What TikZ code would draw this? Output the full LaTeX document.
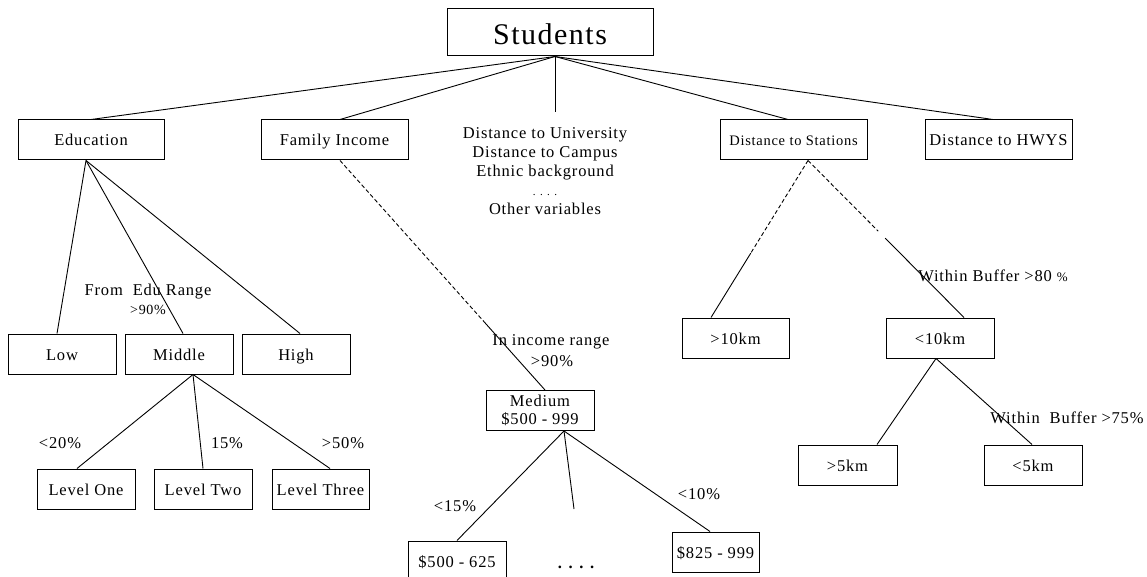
\documentclass[tikz,border=0pt]{standalone}
\usepackage{fontspec}
\setmainfont{Liberation Serif}[LetterSpace=5]
\usetikzlibrary{calc}
\newcommand{\mainsz}{\fontsize{16.5}{19}\selectfont}
\newcommand{\smallsz}{\fontsize{14.5}{17}\selectfont}
\begin{document}
\begin{tikzpicture}[x=1pt,y=-1pt,
  box/.style={draw, line width=1pt, inner sep=0pt, minimum height=40pt, font=\mainsz, text height=14pt, text depth=2pt},
  lbl/.style={inner sep=0pt, font=\mainsz},
  edge/.style={line width=0.9pt},
  dedge/.style={line width=0.9pt, dash pattern=on 4pt off 2.5pt}]
\clip (0,0) rectangle (1147,577);
\fill[white] (0,0) rectangle (1147,577);
% boxes
\node[box, minimum width=206pt, minimum height=47pt, text height=27pt, text depth=2pt, font=\fontsize{30}{34}\selectfont] (stud) at (550,32.5) {Students};
\node[box, minimum width=146pt] (edu) at (91,140) {Education};
\node[box, minimum width=147pt] (fam) at (334.5,140) {Family Income};
\node[box, minimum width=147pt, font=\smallsz] (stat) at (793.5,140) {Distance to Stations};
\node[box, minimum width=147pt] (hwys) at (998.5,140) {Distance to HWYS};
\node[lbl, align=center, font=\fontsize{16.5}{19}\selectfont] (vars) at (545,171)
  {Distance to University\\Distance to Campus\\Ethnic background\\{\fontsize{11}{19}\selectfont . . . .}\\Other variables};
\coordinate (varstop) at (555,112);
\node[box, minimum width=108pt] (low) at (62,354) {Low};
\node[box, minimum width=108pt] (mid) at (179,354) {Middle};
\node[box, minimum width=108pt] (high) at (296,354) {High};
\node[box, minimum width=98pt] (l1) at (86,489) {Level One};
\node[box, minimum width=98pt] (l2) at (203,489) {Level Two};
\node[box, minimum width=97pt] (l3) at (320.5,489) {Level Three};
\node[box, minimum width=108pt, align=center, text height=, text depth=, font=\fontsize{16.5}{18}\selectfont] (med) at (540,410.5) {Medium\\\$500 - 999};
\node[box, minimum width=98pt] (p1) at (457,561) {\$500 - 625};
\node[box, minimum width=87pt] (p3) at (715.5,552) {\$825 - 999};
\coordinate (midend) at (574,509);
\node[box, minimum width=107pt] (g10) at (735.5,338) {>10km};
\node[box, minimum width=108pt] (l10) at (940,338) {<10km};
\node[box, minimum width=99pt] (g5) at (847.5,465) {>5km};
\node[box, minimum width=98pt] (l5) at (1033,465) {<5km};
% top connectors
\draw[edge] ([xshift=5pt]stud.south) -- (edu.north);
\draw[edge] ([xshift=5pt]stud.south) -- ([xshift=5.5pt]fam.north);
\draw[edge] ([xshift=5pt]stud.south) -- (varstop);
\draw[edge] ([xshift=5pt]stud.south) -- ([xshift=-5.5pt]stat.north);
\draw[edge] ([xshift=5pt]stud.south) -- ([xshift=-5.5pt]hwys.north);
% education
\draw[edge] ([xshift=-5pt]edu.south) -- ([xshift=-5pt]low.north);
\draw[edge] ([xshift=-5pt]edu.south) -- ([xshift=4pt]mid.north);
\draw[edge] ([xshift=-5pt]edu.south) -- ([xshift=4pt]high.north);
\draw[edge] ([xshift=14pt]mid.south) -- ([xshift=-9pt]l1.north);
\draw[edge] ([xshift=14pt]mid.south) -- (l2.north);
\draw[edge] ([xshift=14pt]mid.south) -- ([xshift=9.5pt]l3.north);
% family income
\coordinate (fa) at ([xshift=5.5pt]fam.south);
\coordinate (fb) at ([xshift=5pt]med.north);
\draw[dedge] (fa) -- ($(fa)!0.7!(fb)$);
\draw[edge] ($(fa)!0.7!(fb)$) -- (fb);
\draw[edge] ([xshift=24pt]med.south) -- (p1.north);
\draw[edge] ([xshift=24pt]med.south) -- (midend);
\draw[edge] ([xshift=24pt]med.south) -- ([xshift=-5.5pt]p3.north);
% stations
\coordinate (sa) at ([xshift=14.5pt]stat.south);
\coordinate (sb) at ([xshift=-24.5pt]g10.north);
\coordinate (sc) at ([xshift=24pt]l10.north);
\draw[dedge] (sa) -- ($(sa)!0.59!(sb)$);
\draw[edge] ($(sa)!0.59!(sb)$) -- (sb);
\draw[dedge] (sa) -- ($(sa)!0.45!(sc)$);
\draw[edge] ($(sa)!0.495!(sc)$) -- (sc);
\draw[edge] ([xshift=-4pt]l10.south) -- ([xshift=29.5pt]g5.north);
\draw[edge] ([xshift=-4pt]l10.south) -- ([xshift=-1pt]l5.north);
% labels
\node[lbl] (tFrom) at (148,292) {From\ \ Edu Range};
\node[lbl, font=\fontsize{14}{16}\selectfont] (tFromP) at (148,310) {>90\%};
\node[lbl] (t20) at (60,443) {<20\%};
\node[lbl] (t15) at (227,443) {15\%};
\node[lbl] (t50) at (343,443) {>50\%};
\node[lbl] (tInc) at (551,342) {In income range};
\node[lbl] (tIncP) at (552,361) {>90\%};
\node[lbl] (tp15) at (455,506) {<15\%};
\node[lbl] (tp10) at (699,494) {<10\%};
\node[lbl] (tdots) at (576,567) {{\fontsize{16.5}{19}\selectfont\bfseries . . . .}};
\node[lbl] (tB80) at (993,276) {Within Buffer >80 {\fontsize{13}{15}\selectfont\%}};
\node[lbl] (tB75) at (1067,418) {Within\ \ Buffer >75\%};
\end{tikzpicture}
\end{document}
